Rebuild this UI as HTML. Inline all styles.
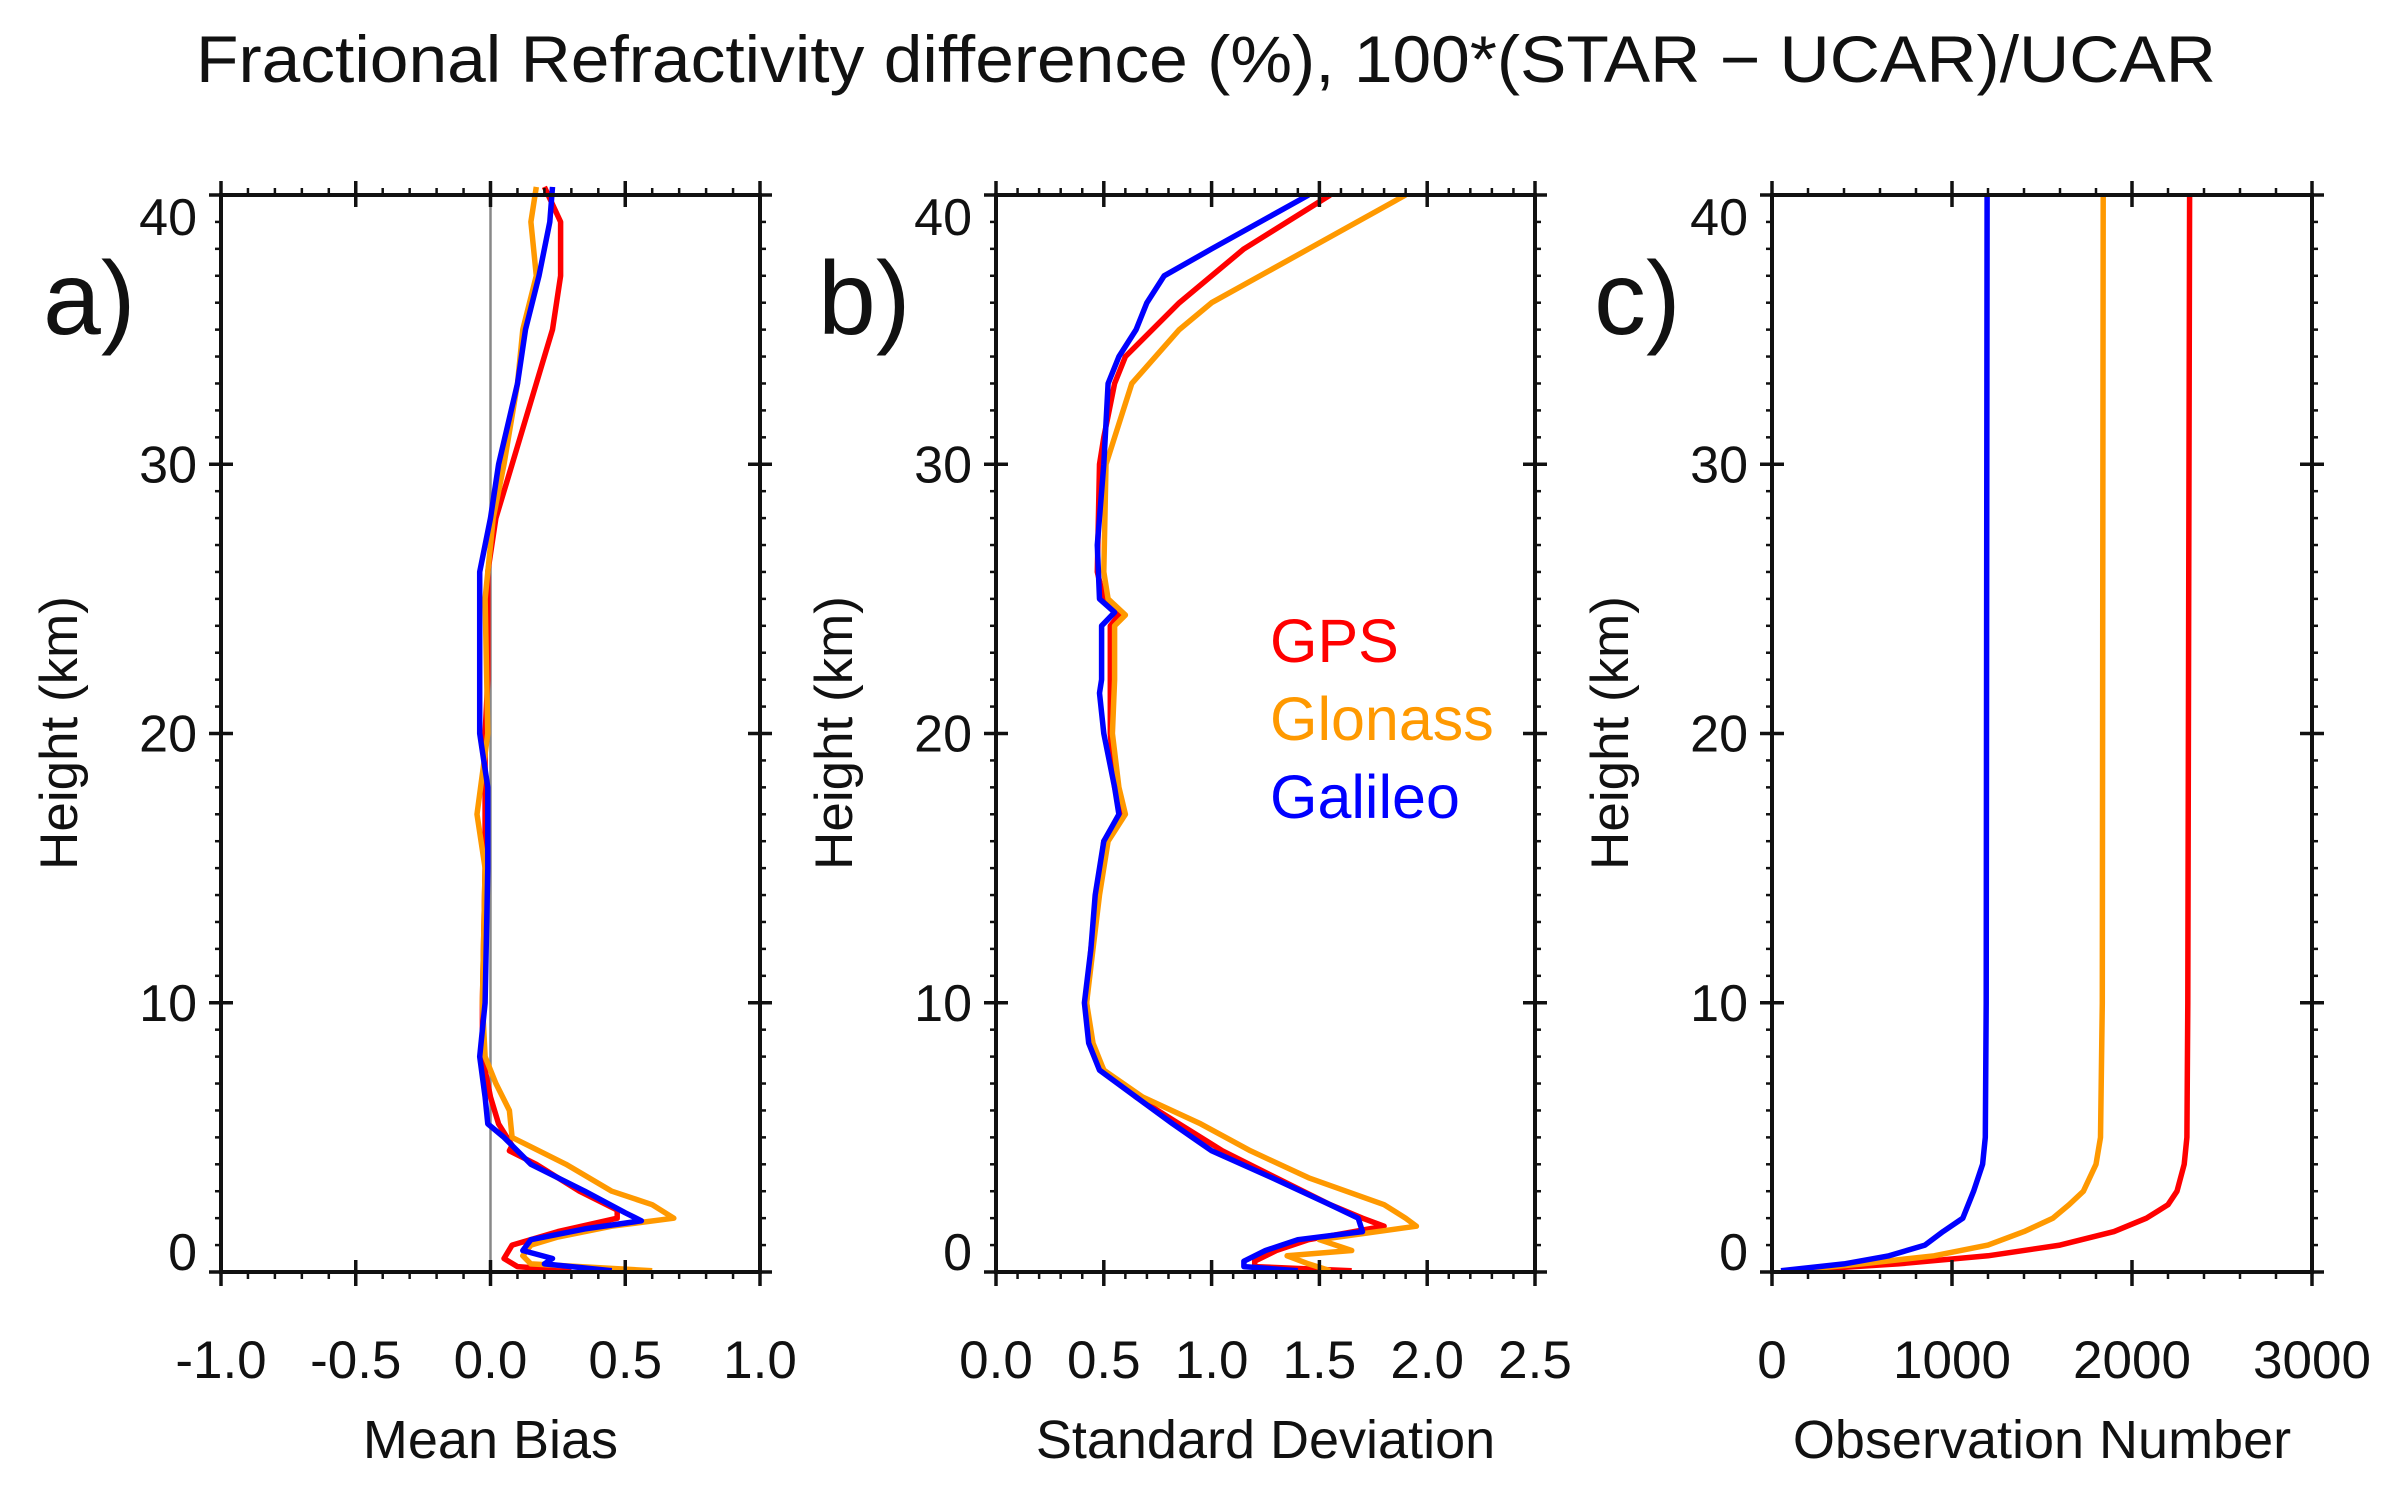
<!DOCTYPE html>
<html><head><meta charset="utf-8">
<style>
html,body{margin:0;padding:0;background:#fff;}
svg{display:block;font-family:"Liberation Sans","DejaVu Sans",sans-serif;}
</style></head>
<body>
<svg id="fig" width="2391" height="1497" viewBox="0 0 2391 1497" xmlns="http://www.w3.org/2000/svg">
<rect width="2391" height="1497" fill="#fff"/>
<text x="1206" y="82" font-size="66" text-anchor="middle" textLength="2020" lengthAdjust="spacingAndGlyphs" fill="#111">Fractional Refractivity difference (%), 100*(STAR − UCAR)/UCAR</text>
<g id="panels"></g>
</svg>
<script>
// ---- data ----
const biasGpsH = [40.3,39,37,35,33,30,28,26,22,20,15,10,8,6.5,5.5,4.7,4.5,4,3,2.3,2,1.5,1,0.5,0.2,0.05];
const biasGpsV = [0.2,0.26,0.26,0.23,0.17,0.08,0.02,-0.01,-0.01,-0.02,-0.02,-0.03,-0.03,0.0,0.03,0.08,0.07,0.17,0.33,0.47,0.47,0.25,0.08,0.05,0.1,0.3];
const biasGloH = [40.3,39,37,35,33,30,28,25,20,17,15,10,8,7,6,5,4,3,2.5,2,1.7,1.3,1,0.6,0.3,0.05];
const biasGloV = [0.17,0.15,0.17,0.12,0.1,0.05,0.01,-0.02,-0.01,-0.05,-0.02,-0.03,-0.02,0.02,0.07,0.08,0.28,0.45,0.6,0.68,0.45,0.25,0.15,0.12,0.15,0.6];
const biasGalH = [40.3,39,37,35,33,30,28,26,23,20,18,15,10,8,6.5,5.5,5,4,3,2.2,1.9,1.6,1.2,0.8,0.5,0.3,0.05];
const biasGalV = [0.23,0.22,0.18,0.13,0.1,0.03,0.0,-0.04,-0.04,-0.04,-0.01,-0.01,-0.02,-0.04,-0.02,-0.01,0.05,0.15,0.35,0.5,0.56,0.35,0.15,0.12,0.23,0.2,0.45];

const sdGpsH = [40,38,36,34,33,31,30,26,25,24.4,24,22,20,18,17,16,14,12,10,8.5,7.5,6.5,5.5,4.5,3.5,2.5,2,1.7,1.2,0.8,0.4,0.2,0.05];
const sdGpsV = [1.55,1.15,0.85,0.6,0.55,0.5,0.48,0.47,0.5,0.57,0.53,0.53,0.53,0.55,0.58,0.5,0.47,0.44,0.42,0.44,0.5,0.65,0.85,1.05,1.3,1.55,1.7,1.8,1.45,1.3,1.2,1.2,1.65];
const sdGloH = [40,38,36,35,33,31,30,26,25,24.4,24,22,20,18,17,16,14,12,10,8.5,7.5,6.5,5.5,4.5,3.5,2.5,2,1.7,1.2,0.8,0.6,0.3,0.05];
const sdGloV = [1.9,1.45,1.0,0.85,0.63,0.55,0.51,0.5,0.52,0.6,0.55,0.55,0.54,0.57,0.6,0.52,0.48,0.45,0.42,0.45,0.5,0.68,0.95,1.18,1.45,1.8,1.9,1.95,1.5,1.65,1.35,1.45,1.55];
const sdGalH = [40,38,37,36,35,34,33,30,27,25,24.5,24,22,21.5,20,18,17,16,14,12,10,8.5,7.5,6.5,5.5,4.5,3.5,2.5,2,1.5,1.2,0.8,0.4,0.2,0.05];
const sdGalV = [1.45,1.0,0.78,0.7,0.65,0.57,0.52,0.5,0.47,0.48,0.55,0.49,0.49,0.48,0.5,0.55,0.57,0.5,0.46,0.44,0.41,0.43,0.48,0.65,0.82,1.0,1.28,1.55,1.68,1.7,1.4,1.25,1.15,1.15,1.4];

const obsGalH = [40,10,5,4,3,2,1.5,1,0.6,0.3,0.05];
const obsGalV = [1195,1190,1185,1170,1120,1060,950,850,650,400,50];
const obsGloH = [40,10,5,4,3,2.5,2,1.5,1,0.6,0.3,0.05];
const obsGloV = [1840,1835,1825,1800,1730,1650,1560,1400,1200,900,500,100];
const obsGpsH = [40,10,5,4,3,2.5,2,1.5,1,0.6,0.3,0.05];
const obsGpsV = [2320,2310,2305,2290,2250,2200,2080,1900,1600,1200,700,100];

const yTicks = [0,10,20,30,40];
const biasTicks = ["-1.0","-0.5","0.0","0.5","1.0"];
const sdTicks = ["0.0","0.5","1.0","1.5","2.0","2.5"];
const obsTicks = ["0","1000","2000","3000"];

// ---- drawing ----
const NS="http://www.w3.org/2000/svg";
const root=document.getElementById('panels');
const TOP=195, BOT=1272;
function yS(h){return BOT-(h/40)*(BOT-TOP);}
function el(tag,attrs,parent){const e=document.createElementNS(NS,tag);for(const k in attrs)e.setAttribute(k,attrs[k]);(parent||root).appendChild(e);return e;}
const RED="#ff0000", ORG="#ff9900", BLU="#0000ff";

function panel(cfg){
  const g=el('g',{});
  
  
  const L=cfg.left,R=cfg.right;
  const xS=v=>L+(v-cfg.min)/(cfg.max-cfg.min)*(R-L);
  if(cfg.zero){const z=el('line',{x1:xS(0),x2:xS(0),y1:TOP,y2:BOT,stroke:'#888','stroke-width':2.5},g);
    
    }
  cfg.series.forEach(s=>{
    const d=s.h.map((h,i)=>(i?'L':'M')+xS(s.v[i]).toFixed(1)+','+yS(h).toFixed(1)).join(' ');
    const p=el('path',{d:d,fill:'none',stroke:s.c,'stroke-width':5.5,'stroke-linejoin':'round'},g);
    
    
  });
  const fr=el('rect',{x:L,y:TOP,width:R-L,height:BOT-TOP,fill:'none',stroke:'#111','stroke-width':4},g);
  
  
  for(let h=0;h<=40;h+=1){
    const y=yS(h), major=(h%10===0), len=major?12:6;
    el('line',{x1:L-len,x2:L+(major?12:0),y1:y,y2:y,stroke:'#111','stroke-width':major?3.5:2.5},g);
    el('line',{x1:R-(major?12:0),x2:R+len,y1:y,y2:y,stroke:'#111','stroke-width':major?3.5:2.5},g);
  }
  yTicks.forEach(h=>{
    const t=el('text',{x:L-24,y:yS(h)+(h===40?40:h===0?-2:18),'font-size':52,'text-anchor':'end',fill:'#111'},g);
    t.textContent=h;
    
    
  });
  const nMaj=cfg.labels.length-1;
  const nMin=nMaj*cfg.minorPer;
  for(let i=0;i<=nMin;i++){
    const x=L+i/nMin*(R-L), major=(i%cfg.minorPer===0), len=major?14:7;
    el('line',{x1:x,x2:x,y1:BOT-(major?12:0),y2:BOT+len,stroke:'#111','stroke-width':major?3.5:2.5},g);
    el('line',{x1:x,x2:x,y1:TOP-len,y2:TOP+(major?12:0),stroke:'#111','stroke-width':major?3.5:2.5},g);
  }
  cfg.labels.forEach((lab,i)=>{
    const t=el('text',{x:L+i/nMaj*(R-L),y:1378,'font-size':53,'text-anchor':'middle',fill:'#111'},g);
    t.textContent=lab;
    
    
  });
  const xt=el('text',{x:(L+R)/2,y:1458,'font-size':54,'text-anchor':'middle',fill:'#111'},g);
  xt.textContent=cfg.xTitle;
  
  
  const yt=el('text',{x:0,y:0,'font-size':53,'text-anchor':'middle',fill:'#111',transform:`translate(${L-144},733) rotate(-90)`},g);
  yt.textContent='Height (km)';
  
  
  const pl=el('text',{x:L-178,y:334,'font-size':104,fill:'#111'},g);
  pl.textContent=cfg.letter;
  
  
  return g;
}

panel({name:'panel-a-mean-bias',left:221,right:760,min:-1,max:1,zero:true,labels:biasTicks,minorPer:5,xTitle:'Mean Bias',letter:'a)',
  series:[{n:'gps-bias-line',h:biasGpsH,v:biasGpsV,c:RED},{n:'glonass-bias-line',h:biasGloH,v:biasGloV,c:ORG},{n:'galileo-bias-line',h:biasGalH,v:biasGalV,c:BLU}]});
const pb=panel({name:'panel-b-std-dev',left:996,right:1535,min:0,max:2.5,labels:sdTicks,minorPer:5,xTitle:'Standard Deviation',letter:'b)',
  series:[{n:'gps-sd-line',h:sdGpsH,v:sdGpsV,c:RED},{n:'glonass-sd-line',h:sdGloH,v:sdGloV,c:ORG},{n:'galileo-sd-line',h:sdGalH,v:sdGalV,c:BLU}]});
panel({name:'panel-c-obs-number',left:1772,right:2312,min:0,max:3000,labels:obsTicks,minorPer:5,xTitle:'Observation Number',letter:'c)',
  series:[{n:'gps-count-line',h:obsGpsH,v:obsGpsV,c:RED},{n:'glonass-count-line',h:obsGloH,v:obsGloV,c:ORG},{n:'galileo-count-line',h:obsGalH,v:obsGalV,c:BLU}]});

[['GPS',RED,662],['Glonass',ORG,740],['Galileo',BLU,818]].forEach(([t,c,y])=>{
  const e=el('text',{x:1270,y:y,'font-size':61,fill:c},pb);
  e.textContent=t;
  
  
});
</script>
</body></html>
